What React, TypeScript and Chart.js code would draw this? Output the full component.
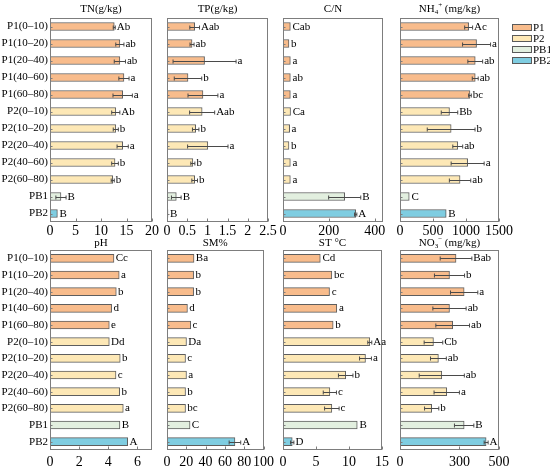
import React, { useEffect, useRef } from 'react';
import { Chart, registerables } from 'chart.js';

Chart.register(...registerables);

const FONT = "'Liberation Serif', 'Times New Roman', serif";

const categories = ['P1(0–10)', 'P1(10–20)', 'P1(20–40)', 'P1(40–60)', 'P1(60–80)', 'P2(0–10)', 'P2(10–20)', 'P2(20–40)', 'P2(40–60)', 'P2(60–80)', 'PB1', 'PB2'];
const groups = ['P1', 'P2', 'PB1', 'PB2'];
const groupOf = [0, 0, 0, 0, 0, 1, 1, 1, 1, 1, 2, 3];
const groupColors = ['#F8BC8C', '#FDE8B6', '#E2EFDF', '#7FCDE1'];

const tnValues = [12.6, 13.7, 13.7, 14.5, 14.25, 12.9, 12.9, 14.25, 12.75, 12.3, 2.15, 1.45];
const tnErrors = [0.2, 0.8, 1.1, 1.0, 1.9, 0.8, 0.5, 1.1, 0.65, 0.3, 1.0, 0.1];
const tnLetters = ['Ab', 'ab', 'ab', 'a', 'a', 'Ab', 'b', 'a', 'b', 'b', 'B', 'B'];
const tnTicks = [0, 5, 10, 15, 20];

const tpValues = [0.685, 0.62, 0.93, 0.52, 0.89, 0.87, 0.71, 1.01, 0.64, 0.685, 0.23, 0.025];
const tpErrors = [0.12, 0.05, 0.78, 0.34, 0.37, 0.31, 0.08, 0.5, 0.05, 0.07, 0.12, 0.01];
const tpLetters = ['Aab', 'ab', 'a', 'b', 'a', 'Aab', 'b', 'a', 'b', 'b', 'B', 'B'];
const tpTicks = [0, 0.5, 1, 1.5, 2, 2.5];

const cnValues = [32, 26, 32, 32, 32, 33, 29, 26, 32, 32, 269, 317];
const cnErrors = [3, 2, 3, 3, 3, 3, 2, 2, 3, 3, 70, 5];
const cnLetters = ['Cab', 'b', 'a', 'ab', 'a', 'Ca', 'a', 'b', 'a', 'a', 'B', 'A'];
const cnTicks = [0, 200, 400];

const nh4Values = [1040, 1160, 1140, 1140, 1060, 750, 775, 875, 1025, 910, 140, 700];
const nh4Errors = [60, 212, 112, 45, 20, 125, 362, 75, 250, 162, 10, 10];
const nh4Letters = ['Ac', 'a', 'ab', 'ab', 'bc', 'Bb', 'b', 'ab', 'a', 'ab', 'C', 'B'];
const nh4Ticks = [0, 500, 1000, 1500];

const phValues = [4.39, 4.75, 4.55, 4.23, 4.07, 4.07, 4.82, 4.53, 4.78, 5.03, 4.8, 5.33];
const phErrors = [0.02, 0.02, 0.02, 0.02, 0.02, 0.02, 0.02, 0.02, 0.02, 0.02, 0.02, 0.02];
const phLetters = ['Cc', 'a', 'b', 'd', 'e', 'Dd', 'b', 'c', 'b', 'a', 'B', 'A'];
const phTicks = [0, 2, 4, 6];

const smValues = [28, 27.6, 27.6, 21.2, 24.6, 20.2, 19.2, 20.2, 19.2, 19.2, 23.9, 70.4];
const smErrors = [0.3, 0.3, 0.3, 0.3, 0.3, 0.3, 0.3, 0.3, 0.3, 0.3, 0.3, 6];
const smLetters = ['Ba', 'b', 'b', 'd', 'c', 'Da', 'c', 'a', 'b', 'bc', 'C', 'A'];
const smTicks = [0, 20, 40, 60, 80, 100];

const stValues = [5.65, 7.4, 7.05, 8.15, 7.6, 13.15, 12.5, 9.5, 7.1, 7.4, 11.25, 1.4];
const stErrors = [0.1, 0.1, 0.1, 0.1, 0.1, 0.3, 0.9, 1.1, 1.0, 1.1, 0.1, 0.25];
const stLetters = ['Cd', 'bc', 'c', 'a', 'b', 'Aa', 'a', 'b', 'c', 'c', 'B', 'D'];
const stTicks = [0, 5, 10, 15];

const no3Values = [283, 250, 324, 250, 266, 169, 194, 211, 236, 160, 324, 435];
const no3Errors = [80, 76, 69, 84, 85, 47, 40, 114, 64, 36, 49, 10];
const no3Letters = ['Bab', 'b', 'a', 'ab', 'ab', 'Cb', 'ab', 'ab', 'a', 'b', 'B', 'A'];
const no3Ticks = [0, 300, 500];

type Seg = { t: string; sub?: boolean; sup?: boolean };

type PanelDef = {
  title: Seg[];
  values: number[];
  errors: number[];
  letters: string[];
  ticks: number[];
  max: number;
  col: number;
  row: number;
  legend?: boolean;
};

const panels: PanelDef[] = [
  { title: [{ t: 'TN(g/kg)' }], values: tnValues, errors: tnErrors, letters: tnLetters, ticks: tnTicks, max: 20, col: 0, row: 0 },
  { title: [{ t: 'TP(g/kg)' }], values: tpValues, errors: tpErrors, letters: tpLetters, ticks: tpTicks, max: 2.5, col: 1, row: 0 },
  { title: [{ t: 'C/N' }], values: cnValues, errors: cnErrors, letters: cnLetters, ticks: cnTicks, max: 436, col: 2, row: 0 },
  { title: [{ t: 'NH' }, { t: '4', sub: true }, { t: '+', sup: true }, { t: ' (mg/kg)' }], values: nh4Values, errors: nh4Errors, letters: nh4Letters, ticks: nh4Ticks, max: 1500, col: 3, row: 0, legend: true },
  { title: [{ t: 'pH' }], values: phValues, errors: phErrors, letters: phLetters, ticks: phTicks, max: 7, col: 0, row: 1 },
  { title: [{ t: 'SM%' }], values: smValues, errors: smErrors, letters: smLetters, ticks: smTicks, max: 100, col: 1, row: 1 },
  { title: [{ t: 'ST °C' }], values: stValues, errors: stErrors, letters: stLetters, ticks: stTicks, max: 15, col: 2, row: 1 },
  { title: [{ t: 'NO' }, { t: '3', sub: true }, { t: '−', sup: true }, { t: ' (mg/kg)' }], values: no3Values, errors: no3Errors, letters: no3Letters, ticks: no3Ticks, max: 500, col: 3, row: 1 },
];

// layout geometry (canvas placement)
const cols = [
  { left: 0, padL: 50, plotW: 102, padR: 8 },
  { left: 157, padL: 10, plotW: 101, padR: 10 },
  { left: 273, padL: 10, plotW: 100, padR: 10 },
  { left: 390, padL: 10, plotW: 99, padR: 51 },
];
const rows = [
  { top: 0, padT: 18, plotH: 204, padB: 18, titleY: 9, tickPad: 1 },
  { top: 232, padT: 18, plotH: 200, padB: 21, titleY: 11, tickPad: 4 },
];

function drawRich(ctx: CanvasRenderingContext2D, segs: Seg[], cx: number, cy: number, size: number) {
  const small = Math.round(size * 0.68);
  const widths = segs.map((s) => {
    ctx.font = `${s.sub || s.sup ? small : size}px ${FONT}`;
    return ctx.measureText(s.t).width;
  });
  const total = widths.reduce((a, b) => a + b, 0);
  let x = cx - total / 2;
  ctx.textAlign = 'left';
  ctx.textBaseline = 'middle';
  segs.forEach((s, i) => {
    ctx.font = `${s.sub || s.sup ? small : size}px ${FONT}`;
    const dy = s.sub ? 3 : s.sup ? -4 : 0;
    ctx.fillText(s.t, x, cy + dy);
    x += widths[i];
  });
}

function makePlugin(p: PanelDef, titleY: number) {
  return {
    id: 'panelDecor',
    afterDatasetsDraw(chart: any) {
      const { ctx, chartArea, scales } = chart;
      const xs = scales.x;
      const ys = scales.y;
      ctx.save();
      // error bars + letters
      ctx.strokeStyle = '#4a4a4a';
      ctx.lineWidth = 1;
      ctx.fillStyle = '#000';
      ctx.font = `11px ${FONT}`;
      ctx.textBaseline = 'middle';
      ctx.textAlign = 'left';
      p.values.forEach((v, i) => {
        const e = p.errors[i];
        const yc = Math.round(ys.getPixelForValue(i)) + 0.5;
        const x1 = xs.getPixelForValue(Math.max(0, v - e));
        const x2 = xs.getPixelForValue(v + e);
        if (x2 - x1 > 1.5) {
          ctx.beginPath();
          ctx.moveTo(x1, yc);
          ctx.lineTo(x2, yc);
          ctx.moveTo(x1, yc - 2);
          ctx.lineTo(x1, yc + 2);
          ctx.moveTo(x2, yc - 2);
          ctx.lineTo(x2, yc + 2);
          ctx.stroke();
        }
        ctx.fillText(p.letters[i], x2 + 1.5, yc);
      });
      // frame
      ctx.strokeStyle = '#7d7d7d';
      ctx.lineWidth = 1;
      const l = Math.round(chartArea.left) + 0.5;
      const t = Math.round(chartArea.top) + 0.5;
      const r = Math.round(chartArea.right) - 0.5;
      const b = Math.round(chartArea.bottom) - 0.5;
      ctx.strokeRect(l, t, r - l, b - t);
      // inward tick marks
      ctx.beginPath();
      p.values.forEach((_, i) => {
        const yc = Math.round(ys.getPixelForValue(i)) + 0.5;
        ctx.moveTo(l, yc);
        ctx.lineTo(l + 2, yc);
      });
      p.ticks.forEach((tv) => {
        const xp = Math.round(xs.getPixelForValue(tv)) + 0.5;
        ctx.moveTo(xp, b);
        ctx.lineTo(xp, b - 3);
      });
      ctx.stroke();
      // title
      ctx.fillStyle = '#000';
      drawRich(ctx, p.title, (chartArea.left + chartArea.right) / 2, titleY, 11);
      // legend
      if (p.legend) {
        const bx = chartArea.right + 13;
        groups.forEach((g, gi) => {
          const cy = 27.5 + gi * 11;
          ctx.fillStyle = groupColors[gi];
          ctx.fillRect(bx, cy - 3.5, 20, 7);
          ctx.strokeStyle = '#5a5a5a';
          ctx.strokeRect(bx + 0.5, cy - 3.5 + 0.5, 19, 6);
          ctx.fillStyle = '#000';
          ctx.font = `11px ${FONT}`;
          ctx.textAlign = 'left';
          ctx.textBaseline = 'middle';
          ctx.fillText(g, bx + 21, cy + 0.5);
        });
      }
      ctx.restore();
    },
  };
}

function Panel({ p }: { p: PanelDef }) {
  const ref = useRef<HTMLCanvasElement | null>(null);
  const c = cols[p.col];
  const r = rows[p.row];
  const w = c.padL + c.plotW + c.padR;
  const h = r.padT + r.plotH + r.padB;
  useEffect(() => {
    if (!ref.current) return;
    const showCats = p.col === 0;
    const chart = new Chart(ref.current, {
      type: 'bar',
      data: {
        labels: categories,
        datasets: [
          {
            data: p.values,
            backgroundColor: groupOf.map((g) => groupColors[g]),
            borderColor: '#5e5e5e',
            borderWidth: 1,
            borderSkipped: false,
            barThickness: 8,
          } as any,
        ],
      },
      options: {
        indexAxis: 'y',
        animation: false,
        responsive: false,
        events: [],
        layout: { padding: { top: r.padT, right: c.padR, left: 0, bottom: 0 }, autoPadding: false } as any,
        plugins: { legend: { display: false }, tooltip: { enabled: false }, title: { display: false } },
        scales: {
          x: {
            type: 'linear',
            position: 'bottom',
            min: 0,
            max: p.max,
            grid: { display: false, drawTicks: false },
            border: { display: false },
            ticks: {
              color: '#000',
              font: { family: FONT, size: 14 },
              padding: r.tickPad,
              maxRotation: 0,
              autoSkip: false,
              callback: (v: any) => String(v),
            },
            afterBuildTicks: (s: any) => {
              s.ticks = p.ticks.map((v) => ({ value: v }));
            },
            afterFit: (s: any) => {
              s.height = r.padB;
            },
          },
          y: {
            type: 'category',
            grid: { display: false, drawTicks: false },
            border: { display: false },
            ticks: {
              display: showCats,
              color: '#000',
              font: { family: FONT, size: 11 },
              padding: 2,
              autoSkip: false,
            },
            afterFit: (s: any) => {
              s.width = c.padL;
            },
          },
        },
      } as any,
      plugins: [makePlugin(p, r.titleY) as any],
    });
    return () => chart.destroy();
  }, []);
  return (
    <canvas
      ref={ref}
      width={w}
      height={h}
      style={{ position: 'absolute', left: c.left, top: r.top, width: w, height: h }}
    />
  );
}

export default function App() {
  useEffect(() => {
    document.body.style.margin = '0';
  }, []);
  return (
    <div style={{ position: 'relative', width: 550, height: 471, background: '#fff', overflow: 'hidden' }}>
      {panels.map((p, i) => (
        <Panel key={i} p={p} />
      ))}
    </div>
  );
}
